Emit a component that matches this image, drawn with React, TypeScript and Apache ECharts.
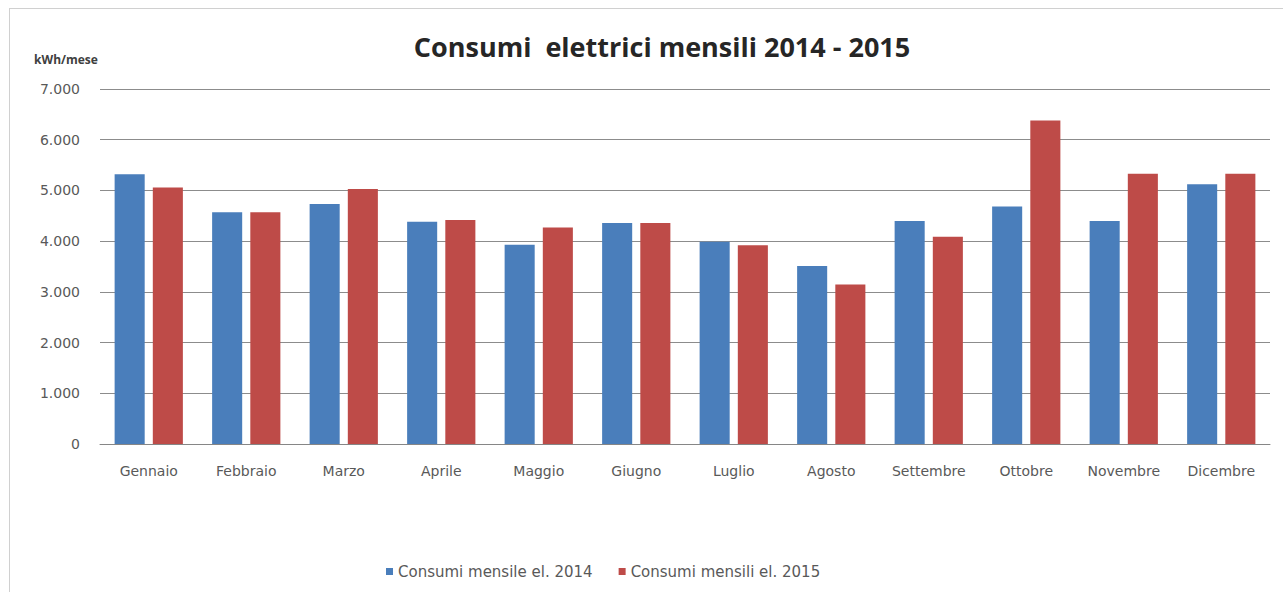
import React, { useEffect, useRef } from "react";
import * as echarts from "echarts";

const months = [
  "Gennaio", "Febbraio", "Marzo", "Aprile", "Maggio", "Giugno",
  "Luglio", "Agosto", "Settembre", "Ottobre", "Novembre", "Dicembre",
];
const consumi2014 = [5320, 4570, 4730, 4380, 3930, 4360, 3990, 3510, 4395, 4685, 4395, 5120];
const consumi2015 = [5060, 4570, 5030, 4415, 4270, 4360, 3920, 3145, 4085, 6380, 5330, 5330];
const seriesNames = ["Consumi mensile el. 2014", "Consumi mensili el. 2015"];
const yTicks = { min: 0, max: 7000, interval: 1000 };

const FONT = "'DejaVu Sans', 'Open Sans', sans-serif";
const TITLE_FONT = "'Open Sans', 'Noto Sans', sans-serif";

export default function App() {
  const ref = useRef<HTMLDivElement>(null);
  useEffect(() => {
    document.body.style.margin = "0";
    const chart = echarts.init(ref.current!, null, { renderer: "svg" });
    chart.setOption({
      animation: false,
      backgroundColor: "#ffffff",
      title: {
        text: "Consumi  elettrici mensili 2014 - 2015",
        left: 657,
        textAlign: "center",
        top: 28,
        textStyle: { fontFamily: TITLE_FONT, fontSize: 27, fontWeight: "bold", color: "#262626" },
      },
      legend: {
        data: seriesNames,
        bottom: 8,
        left: 381,
        itemWidth: 7,
        itemHeight: 7,
        itemGap: 26,
        icon: "rect",
        textStyle: { fontFamily: FONT, fontSize: 15, color: "#595959" },
      },
      grid: { left: 100, right: 13, top: 89, bottom: 148, containLabel: false },
      xAxis: {
        type: "category",
        data: months,
        axisLine: { lineStyle: { color: "#868686", width: 1 } },
        axisTick: { show: false },
        axisLabel: { fontFamily: FONT, fontSize: 14, color: "#595959", margin: 20, interval: 0 },
      },
      yAxis: {
        type: "value",
        name: "kWh/mese",
        nameLocation: "end",
        nameGap: 24,
        nameTextStyle: { fontFamily: TITLE_FONT, fontSize: 12, fontWeight: "bold", color: "#404040", align: "center", padding: [0, 0, 0, -68] },
        min: yTicks.min,
        max: yTicks.max,
        interval: yTicks.interval,
        axisLine: { show: false },
        axisTick: { show: false },
        splitLine: { lineStyle: { color: "#8c8c8c", width: 1 } },
        axisLabel: {
          fontFamily: FONT,
          fontSize: 14,
          color: "#595959",
          margin: 20,
          formatter: (v: number) => (v === 0 ? "0" : v.toLocaleString("it-IT").replace(/\u00a0/g, ".")),
        },
      },
      series: [
        {
          name: seriesNames[0],
          type: "bar",
          data: consumi2014,
          itemStyle: { color: "#4a7ebb" },
          barGap: "27%",
          barCategoryGap: "30%",
        },
        {
          name: seriesNames[1],
          type: "bar",
          data: consumi2015,
          itemStyle: { color: "#be4b48" },
          barGap: "27%",
          barCategoryGap: "30%",
        },
      ],
      graphic: [
        { type: "line", shape: { x1: 9.5, y1: 8, x2: 9.5, y2: 592 }, style: { stroke: "#d0d0d0", lineWidth: 1 } },
        { type: "line", shape: { x1: 9, y1: 8.5, x2: 1283, y2: 8.5 }, style: { stroke: "#d0d0d0", lineWidth: 1 } },
      ],
    });
    return () => chart.dispose();
  }, []);
  return <div ref={ref} style={{ width: 1283, height: 592 }} />;
}
